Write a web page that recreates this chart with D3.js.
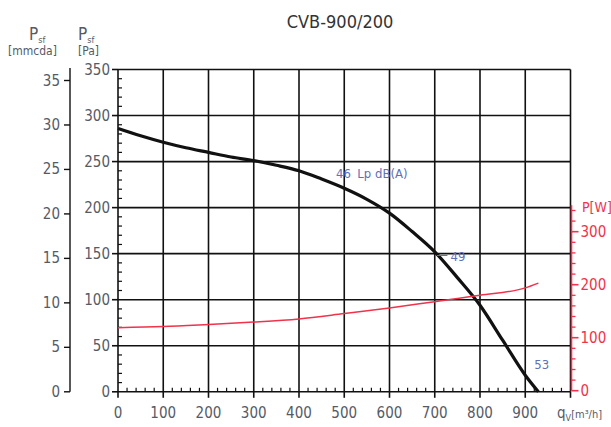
<!DOCTYPE html>
<html><head><meta charset="utf-8">
<script src="https://cdn.jsdelivr.net/npm/d3@7"></script>
<style>body{margin:0;background:#fff}svg{display:block}</style>
</head><body>
<svg id="c" width="611" height="427"></svg>
<script>
const title = "CVB-900/200";
const flowTicks = [0,100,200,300,400,500,600,700,800,900];
const paTicks = [0,50,100,150,200,250,300,350];
const mmTicks = [0,5,10,15,20,25,30,35];
const wTicks = [0,100,200,300];
const pressureFlow = [0,50,100,150,200,250,300,350,400,450,500,550,600,650,700,750,800,850,900,929];
const pressurePa   = [286,278,271,265,260,255,251,246,240,231,221,209,194,174,152,124,94,56,18,0];
const powerFlow = [0,100,200,300,400,500,600,700,800,900,929];
const powerW    = [119,121,125,129.5,135.5,145.5,156,168,180,194,203];
const noiseLabels = [{t:"46", q:482, p:238}, {t:"Lp dB(A)", q:529, p:238}, {t:"49", q:735, p:148}, {t:"53", q:920, p:30}];

const svg = d3.select("#c");
const font = "'Liberation Sans Narrow','DejaVu Sans Condensed','Roboto Condensed',sans-serif";
const grey = "#555a66";
const red = "#f0324a";
const x = d3.scaleLinear().domain([0,1000]).range([118,570.5]);
const y = d3.scaleLinear().domain([0,350]).range([391.8,69.5]);
const ym = d3.scaleLinear().domain([0,35]).range([391.8,80.5]);
const yw = d3.scaleLinear().domain([0,300]).range([390.7,231.7]);

// grid
const g = svg.append("g");
g.selectAll(".v").data(d3.range(100,1001,100)).join("line")
  .attr("x1",d=>x(d)).attr("x2",d=>x(d)).attr("y1",y(0)).attr("y2",y(350))
  .attr("stroke","#111").attr("stroke-width",1.6);
g.selectAll(".h").data(paTicks.filter(d=>d>0)).join("line")
  .attr("x1",x(0)).attr("x2",x(1000)).attr("y1",d=>y(d)).attr("y2",d=>y(d))
  .attr("stroke","#111").attr("stroke-width",1.6);

// Pa axis
svg.append("line").attr("x1",x(0)).attr("x2",x(0)).attr("y1",y(0)).attr("y2",y(350)).attr("stroke","#111").attr("stroke-width",1.6);
svg.selectAll(".pam").data(d3.range(0,351,10).filter(d=>d%50)).join("line")
  .attr("x1",x(0)).attr("x2",x(0)+4).attr("y1",d=>y(d)).attr("y2",d=>y(d)).attr("stroke","#111").attr("stroke-width",1.2);
svg.selectAll(".paM").data(paTicks).join("line")
  .attr("x1",x(0)-6).attr("x2",x(0)).attr("y1",d=>y(d)).attr("y2",d=>y(d)).attr("stroke","#111").attr("stroke-width",1.6);
svg.selectAll(".pal").data(paTicks).join("text")
  .attr("x",x(0)-8).attr("y",d=>y(d)+5).attr("text-anchor","end")
  .attr("font-family",font).attr("font-size",15).attr("fill",grey).text(d=>d);

// mmcda axis
svg.append("line").attr("x1",70).attr("x2",70).attr("y1",ym(0)).attr("y2",68).attr("stroke","#111").attr("stroke-width",1.4);
svg.selectAll(".mmt").data(mmTicks).join("line")
  .attr("x1",64).attr("x2",70).attr("y1",d=>ym(d)).attr("y2",d=>ym(d)).attr("stroke","#111").attr("stroke-width",1.4);
svg.selectAll(".mml").data(mmTicks).join("text")
  .attr("x",60).attr("y",d=>ym(d)+5).attr("text-anchor","end")
  .attr("font-family",font).attr("font-size",15).attr("fill",grey).text(d=>d);

// x axis
svg.append("line").attr("x1",x(0)).attr("x2",x(1000)).attr("y1",y(0)).attr("y2",y(0)).attr("stroke","#111").attr("stroke-width",1.6);
svg.selectAll(".xm").data(d3.range(0,1001,20).filter(d=>d%100)).join("line")
  .attr("x1",d=>x(d)).attr("x2",d=>x(d)).attr("y1",y(0)).attr("y2",y(0)-4).attr("stroke","#111").attr("stroke-width",1.2);
svg.selectAll(".xM").data(d3.range(0,1001,100)).join("line")
  .attr("x1",d=>x(d)).attr("x2",d=>x(d)).attr("y1",y(0)).attr("y2",y(0)+6).attr("stroke","#111").attr("stroke-width",1.6);
svg.selectAll(".xl").data(flowTicks).join("text")
  .attr("x",d=>x(d)).attr("y",418).attr("text-anchor","middle")
  .attr("font-family",font).attr("font-size",15).attr("fill",grey).text(d=>d);
const ql = svg.append("text").attr("x",557).attr("y",418).attr("font-family",font).attr("fill",grey);
ql.append("tspan").attr("font-size",15).text("q");
ql.append("tspan").attr("font-size",9).attr("dy",3).text("V");
ql.append("tspan").attr("font-size",11).attr("dy",-3).text("[m³/h]");

// W axis
svg.append("line").attr("x1",x(1000)+1).attr("x2",x(1000)+1).attr("y1",yw(0)).attr("y2",yw(350)).attr("stroke",red).attr("stroke-width",1.6);
svg.selectAll(".wm").data(d3.range(0,351,20).filter(d=>d%100)).join("line")
  .attr("x1",x(1000)+1).attr("x2",x(1000)+5).attr("y1",d=>yw(d)).attr("y2",d=>yw(d)).attr("stroke",red).attr("stroke-width",1.3);
svg.selectAll(".wM").data(wTicks).join("line")
  .attr("x1",x(1000)+1).attr("x2",x(1000)+8).attr("y1",d=>yw(d)).attr("y2",d=>yw(d)).attr("stroke",red).attr("stroke-width",1.6);
svg.selectAll(".wl").data(wTicks).join("text")
  .attr("x",x(1000)+10).attr("y",d=>yw(d)+5).attr("font-family",font).attr("font-size",15).attr("fill",red).text(d=>d);
svg.append("text").attr("x",582).attr("y",212).attr("font-family",font).attr("font-size",14).attr("fill",red).text("P[W]");

// axis titles
const t1 = svg.append("text").attr("x",29).attr("y",40).attr("font-family",font).attr("fill",grey);
t1.append("tspan").attr("font-size",17).text("P");
t1.append("tspan").attr("font-size",9).attr("dy",3).text("sf");
svg.append("text").attr("x",8).attr("y",55).attr("font-family",font).attr("font-size",12).attr("fill",grey).text("[mmcda]");
const t2 = svg.append("text").attr("x",78).attr("y",40).attr("font-family",font).attr("fill",grey);
t2.append("tspan").attr("font-size",17).text("P");
t2.append("tspan").attr("font-size",9).attr("dy",3).text("sf");
svg.append("text").attr("x",78).attr("y",55).attr("font-family",font).attr("font-size",12).attr("fill",grey).text("[Pa]");

svg.append("text").attr("x",340).attr("y",28).attr("text-anchor","middle").attr("font-family",font).attr("font-size",18).attr("fill","#333").text(title);

// curves
const lp = d3.line().curve(d3.curveMonotoneX).x(d=>x(d[0])).y(d=>y(d[1]));
svg.append("path").datum(d3.zip(pressureFlow,pressurePa)).attr("d",lp).attr("fill","none").attr("stroke","#111").attr("stroke-width",3.2);
const lw = d3.line().curve(d3.curveMonotoneX).x(d=>x(d[0])).y(d=>yw(d[1]));
svg.append("path").datum(d3.zip(powerFlow,powerW)).attr("d",lw).attr("fill","none").attr("stroke",red).attr("stroke-width",1.5);

// noise labels
const blue = "#5f6fb8";
svg.append("line").attr("x1",x(705)).attr("x2",x(728)).attr("y1",y(148)).attr("y2",y(148)).attr("stroke",blue).attr("stroke-width",1);
svg.selectAll(".nl").data(noiseLabels).join("text")
  .attr("x",d=>x(d.q)).attr("y",d=>y(d.p)+5).attr("text-anchor","start")
  .attr("font-family",font).attr("font-size",13).attr("fill",blue).text(d=>d.t);
</script>
</body></html>
